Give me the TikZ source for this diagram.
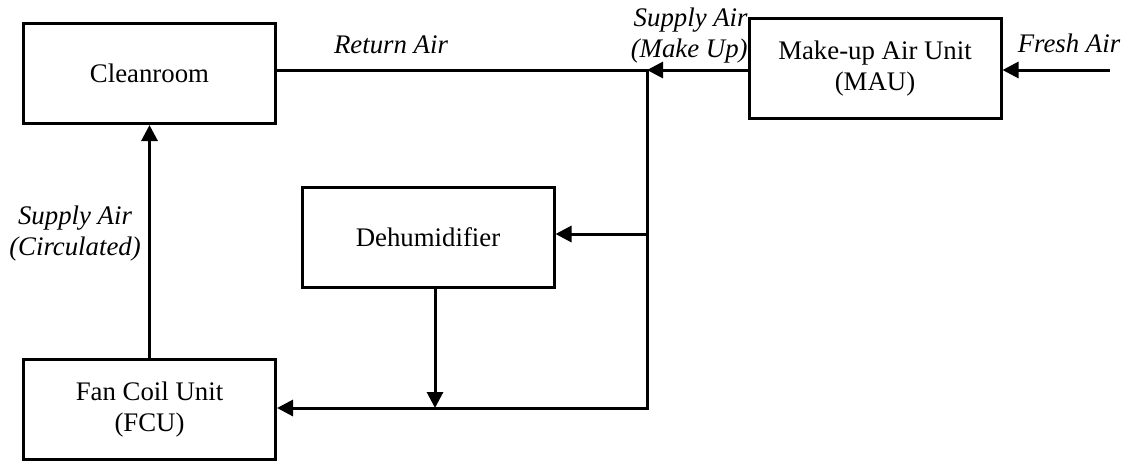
\documentclass[tikz,border=0pt]{standalone}
\usepackage{fontspec}
\setmainfont{Liberation Serif}
\usetikzlibrary{arrows.meta}
\begin{document}
\begin{tikzpicture}[x=0.5pt,y=-0.5pt,
  every node/.style={font=\fontsize{13.4}{15.5}\selectfont},
  unit/.style={draw,line width=1.5pt,inner sep=0pt,align=center,
    minimum width=126pt,minimum height=50pt},
  lbl/.style={font=\fontsize{13.4}{15.5}\selectfont\itshape,inner sep=0pt,align=center},
  flow/.style={line width=1.5pt,-{Triangle[length=8pt,width=8pt]}},
  wire/.style={line width=1.5pt}]
\useasboundingbox (0,0) rectangle (1129,461);
\node[unit] (clean) at (149.5,73.5) {Cleanroom};
\node[unit] (mau) at (875,68.5) {Make-up Air Unit\\(MAU)};
\node[unit] (dehum) at (428,237) {Dehumidifier};
\node[unit] (fcu) at (149.5,409.5) {Fan Coil Unit\\(FCU)};
\coordinate (j1) at (647,70);
\coordinate (j2) at (647,234);
\coordinate (j3) at (647,408);
\coordinate (j4) at (435,408);
\coordinate (fa) at (1110,70);
\draw[wire] (clean.east |- j1) -- (j1);
\draw[flow] (mau.west |- j1) -- (j1);
\draw[flow] (fa) -- (mau.east |- fa);
\draw[wire,line cap=rect] (j1) -- (j3);
\draw[flow] (j2) -- (dehum.east |- j2);
\draw[flow] (j3) -- (fcu.east |- j3);
\draw[flow] (dehum.south -| j4) -- (j4);
\draw[flow] (fcu.north) -- (clean.south);
\node[lbl] (ra) at (391,45) {Return Air};
\node[lbl,anchor=east,align=right] (sa) at (748,36) {Supply Air\\(Make Up)};
\node[lbl] (fr) at (1069,43) {Fresh Air};
\node[lbl] (sc) at (75,234) {Supply Air\\(Circulated)};
\end{tikzpicture}
\end{document}
